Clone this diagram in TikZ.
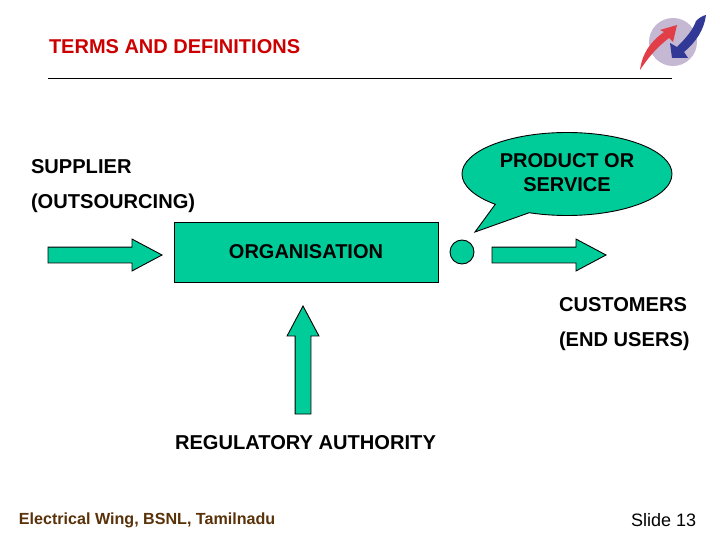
\documentclass[tikz,border=0pt]{standalone}
\usepackage{fontspec}
\setmainfont{Liberation Sans}
\usetikzlibrary{shapes.arrows,shapes.callouts}
\definecolor{tealfill}{RGB}{0,204,153}
\definecolor{titlered}{RGB}{204,0,0}
\definecolor{footbrown}{RGB}{90,50,10}
\definecolor{logolilac}{RGB}{196,184,210}
\definecolor{logored}{RGB}{226,62,72}
\definecolor{logoblue}{RGB}{50,56,150}
\tikzset{
  lbl/.style={inner sep=0pt,outer sep=0pt,anchor=west,font=\fontsize{20.1}{24}\selectfont\bfseries},
  blockarrow/.style={shape=single arrow,draw=black,line width=0.9pt,fill=tealfill,inner sep=7.5pt,outer sep=0pt,anchor=tip,
    minimum height=114pt,single arrow head extend=8pt,single arrow tip angle=56,single arrow head indent=0pt},
}
\begin{document}
\begin{tikzpicture}[x=1pt,y=-1pt]
\useasboundingbox (0,0) rectangle (720,540);
\fill[white] (0,0) rectangle (720,540);
% logo
\fill[logolilac] (673,42) circle (24);
\fill[logored] (640,70) .. controls (642,54) and (650,42) .. (664,32) -- (660,30) -- (677,25) -- (673,42) -- (669,38) .. controls (656,48) and (648,58) .. (640,70) -- cycle;
\fill[logoblue] (706,15) .. controls (704,30) and (696,42) .. (684,52) -- (688,58) -- (672,58) -- (670,43) -- (677,47) .. controls (686,38) and (693,30) .. (696,21) .. controls (699,18) and (702,16) .. (706,15) -- cycle;
% title
\node[lbl,text=titlered,font=\fontsize{20}{24}\selectfont\bfseries] (title) at (49,46.7) {TERMS AND DEFINITIONS};
\coordinate (ruleA) at (48,78);
\coordinate (ruleB) at (672,78);
\draw[line width=0.8pt] (ruleA) -- (ruleB);
% labels
\node[lbl] (supplier) at (31,167) {SUPPLIER};
\node[lbl] (outsourcing) at (31,203) {(OUTSOURCING)};
\node[lbl] (customers) at (559,305) {CUSTOMERS};
\node[lbl] (endusers) at (559,341) {(END USERS)};
\node[lbl] (regulatory) at (175,443) {REGULATORY AUTHORITY};
\node[lbl,text=footbrown,font=\fontsize{16.1}{18}\selectfont\bfseries] (footer) at (19,520) {Electrical Wing, BSNL, Tamilnadu};
\node[lbl,font=\fontsize{18}{22}\selectfont] (slide) at (631,520) {Slide 13};
% shapes
\node[draw=black,line width=0.9pt,fill=tealfill,minimum width=264pt,minimum height=60pt,inner sep=0pt,outer sep=0pt,
  font=\fontsize{20}{24}\selectfont\bfseries] (org) at (306,252) {ORGANISATION};
\node[blockarrow] (inarrow) at (162,255) {};
\node[blockarrow] (outarrow) at (606,255) {};
\node[blockarrow,shape border rotate=90,minimum height=108pt] (uparrow) at (303,306) {};
\node[circle,draw=black,line width=0.9pt,fill=tealfill,minimum size=24pt,inner sep=0pt,outer sep=0pt] (dot) at (462,252) {};
\node[shape=ellipse callout,draw=black,line width=0.9pt,fill=tealfill,minimum width=210pt,minimum height=83pt,
  inner sep=0pt,outer sep=0pt,callout absolute pointer={(475,232)},callout pointer arc=22] (bubble) at (567,174) {};
\node[inner sep=0pt,outer sep=0pt,align=center,font=\fontsize{20}{24}\selectfont\bfseries] (bubbletext) at (567,172.5) {PRODUCT OR\\SERVICE};
\end{tikzpicture}
\end{document}
